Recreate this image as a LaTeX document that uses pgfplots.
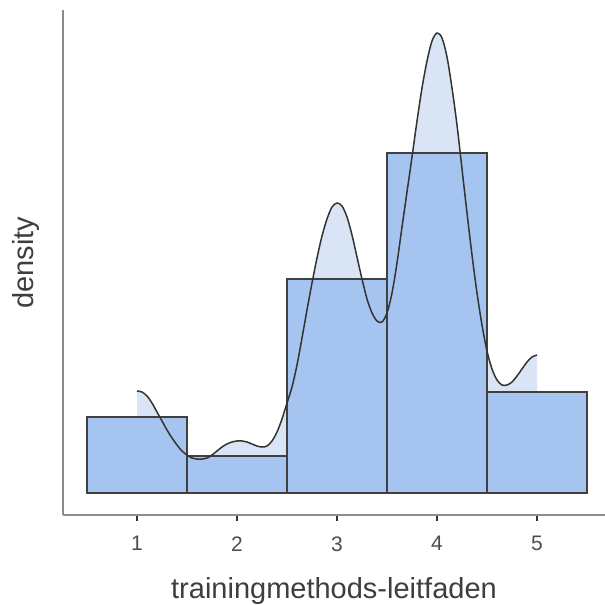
\documentclass[border=0pt]{standalone}
\usepackage{pgfplots}
\pgfplotsset{compat=1.18}
\usepackage{fontspec}
\setmainfont{Liberation Sans}
\definecolor{barfill}{HTML}{A6C4F0}
\definecolor{densfill}{HTML}{D9E4F5}
\definecolor{axgray}{HTML}{8C8C8C}
\definecolor{txtgray}{HTML}{4D4D4D}
\definecolor{lblgray}{HTML}{333333}
\pgfplotstableread{
x y
1.00 102
1.05 101
1.10 97
1.15 90
1.20 81
1.25 72
1.30 63
1.35 55
1.40 48
1.45 42
1.50 38
1.55 35
1.60 34
1.65 34
1.70 35
1.75 38
1.80 42
1.85 46
1.90 49
1.95 51
2.00 52
2.05 52
2.10 51
2.15 49
2.20 47
2.25 46
2.30 47
2.35 52
2.40 61
2.45 74
2.50 90
2.55 106
2.60 128
2.65 155
2.70 183
2.75 210
2.80 235
2.85 257
2.90 274
2.95 286
3.00 290
3.05 287
3.10 276
3.15 258
3.20 236
3.25 214
3.30 194
3.35 180
3.40 172
3.45 171
3.50 180
3.55 200
3.60 230
3.65 266
3.70 301
3.75 336
3.80 372
3.85 405
3.90 432
3.95 452
4.00 460
4.05 455
4.10 436
4.15 405
4.20 368
4.25 324
4.30 280
4.35 238
4.40 200
4.45 168
4.50 142
4.55 124
4.60 113
4.65 108
4.70 108
4.75 111
4.80 117
4.85 124
4.90 131
4.95 136
5.00 138
}\density
\begin{document}
\begin{tikzpicture}
\useasboundingbox (-63bp,-90bp) rectangle (542bp,515bp);
\begin{axis}[
  anchor=south west, at={(0,0)},
  scale only axis, width=542bp, height=505bp,
  xmin=0.26, xmax=5.68, ymin=-22, ymax=483,
  axis x line*=bottom, axis y line*=left,
  axis line style={axgray, line width=2.6bp},
  xtick={1,2,3,4,5}, ytick=\empty,
  tick align=outside, major tick length=6bp,
  tick style={lblgray, line width=1.3bp},
  /pgf/number format/assume math mode=true,
  xticklabel style={font=\fontsize{21bp}{25bp}\selectfont, text=txtgray, yshift=-12bp},
  xlabel={trainingmethods-leitfaden},
  ylabel={density},
  xlabel style={font=\fontsize{29bp}{34bp}\selectfont, text=txtgray!80!black, anchor=base, at={([yshift=-83bp]axis description cs:0.5,0)}},
  ylabel style={font=\fontsize{29bp}{34bp}\selectfont, text=txtgray!80!black, rotate=0, anchor=base, at={([xshift=-29bp]axis description cs:0,0.5)}},
]
\addplot[fill=densfill, draw=none] table {\density} -- (axis cs:5,0) -- (axis cs:1,0) -- cycle;
\addplot[ybar interval, fill=barfill, draw=black!75, line width=1.2bp]
  coordinates {(0.5,76) (1.5,37) (2.5,214) (3.5,340) (4.5,101) (5.5,101)};
\addplot[black!80, line width=1.5bp, smooth, no marks] table {\density};
\end{axis}
\end{tikzpicture}
\end{document}
